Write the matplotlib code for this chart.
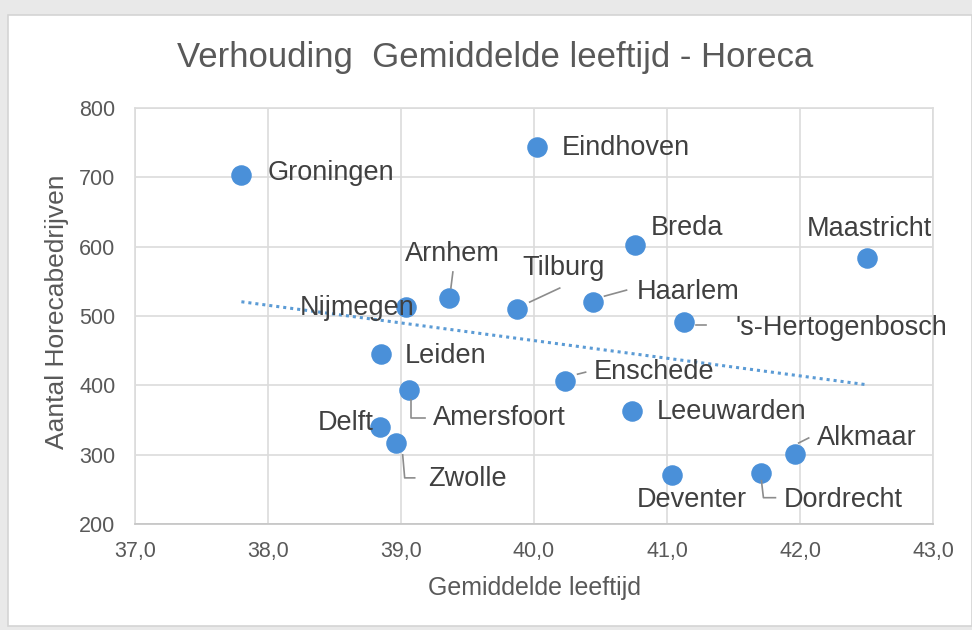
import numpy as np
import matplotlib
matplotlib.use("Agg")
import matplotlib.pyplot as plt
from matplotlib.patches import Rectangle
from matplotlib.lines import Line2D
from matplotlib.transforms import IdentityTransform

plt.rcParams['font.family'] = ['Liberation Sans', 'DejaVu Sans']

# ---- data ----
cities = ["Groningen", "Eindhoven", "Breda", "Maastricht", "Arnhem", "Nijmegen",
          "Tilburg", "Haarlem", "'s-Hertogenbosch", "Leiden", "Enschede", "Amersfoort",
          "Leeuwarden", "Delft", "Zwolle", "Alkmaar", "Deventer", "Dordrecht"]
age = [37.80, 40.02, 40.76, 42.50, 39.36, 39.04,
       39.87, 40.44, 41.13, 38.85, 40.23, 39.06,
       40.74, 38.84, 38.96, 41.96, 41.04, 41.71]
horeca = [703, 744, 602, 584, 526, 513,
          510, 520, 491, 445, 406, 393,
          363, 340, 317, 301, 271, 274]
xticks = [37, 38, 39, 40, 41, 42, 43]
xticklabels = ["37,0", "38,0", "39,0", "40,0", "41,0", "42,0", "43,0"]
yticks = [200, 300, 400, 500, 600, 700, 800]

# ---- label layout (pixel offsets from the marker; image y downwards) ----
label_pos = {
    "Groningen": (26, -2, 'left'),
    "Eindhoven": (25, 1, 'left'),
    "Breda": (16, -17, 'left'),
    "Maastricht": (3, -29, 'center'),
    "Arnhem": (4, -44, 'center'),
    "Nijmegen": (-49, 1, 'center'),
    "Tilburg": (6, -41, 'left'),
    "Haarlem": (44, -10, 'left'),
    "'s-Hertogenbosch": (51, 6, 'left'),
    "Leiden": (24, 2, 'left'),
    "Enschede": (29, -9, 'left'),
    "Amersfoort": (24, 28, 'left'),
    "Leeuwarden": (24, 1, 'left'),
    "Delft": (-34, -4, 'center'),
    "Zwolle": (32, 36, 'left'),
    "Alkmaar": (22, -16, 'left'),
    "Deventer": (19, 25, 'center'),
    "Dordrecht": (22, 27, 'left'),
}
leaders = {
    "Arnhem": [(4, -26), (2, -10)],
    "Tilburg": [(13, -7), (43, -21)],
    "Haarlem": [(12, -6), (34, -12)],
    "'s-Hertogenbosch": [(12, 3), (22, 3)],
    "Enschede": [(13, -7), (21, -9)],
    "Amersfoort": [(2, 10), (2, 28), (16, 28)],
    "Zwolle": [(7, 12), (9, 35), (19, 35)],
    "Alkmaar": [(4, -11), (14, -16)],
    "Dordrecht": [(0, 8), (2, 25), (14, 25)],
}

W, H = 972, 630
fig = plt.figure(figsize=(W / 100, H / 100), dpi=100)
fig.patch.set_facecolor('#e9e9e9')
bg = Rectangle((8 / W, 4 / H), (W - 8) / W, (H - 19) / H,
               transform=fig.transFigure, facecolor='white',
               edgecolor='#d4d4d4', lw=1.2, zorder=-10)
fig.add_artist(bg)

ax = fig.add_axes([135 / W, (H - 524) / H, (933 - 135) / W, (524 - 108) / H])
ax.set_zorder(1)
ax.patch.set_alpha(0)
ax.set_xlim(37, 43)
ax.set_ylim(200, 800)
ax.set_xticks(xticks)
ax.set_xticklabels(xticklabels)
ax.set_yticks(yticks)
ax.grid(True, color='#dcdcdc', lw=1.2)
ax.set_axisbelow(True)
for s in ax.spines.values():
    s.set_color('#dcdcdc')
    s.set_linewidth(1.2)
ax.spines['bottom'].set_color('#c4c4c4')
ax.tick_params(length=0, labelsize=15.5, labelcolor='#595959')
ax.tick_params(axis='y', pad=14)
ax.tick_params(axis='x', pad=12)

ax.scatter(age, horeca, s=190, color='#4A90D9', edgecolors='#4A90D9', zorder=3)

# linear trend line
coef = np.polyfit(age, horeca, 1)
xs = np.array([min(age), max(age)])
ax.plot(xs, np.polyval(coef, xs), linestyle=(0, (1, 1.3)), color='#5B9BD5', lw=2.2, zorder=2)

fig.text(495 / W, 1 - 57 / H, "Verhouding  Gemiddelde leeftijd - Horeca", ha='center',
         va='center', fontsize=25, color='#595959')
fig.text(534 / W, 1 - 588 / H, "Gemiddelde leeftijd", ha='center', va='center',
         fontsize=18, color='#595959')
fig.text(57 / W, 1 - 312 / H, "Aantal Horecabedrijven", ha='center', va='center',
         rotation=90, fontsize=19, color='#595959')

fig.canvas.draw()
for name, x, y in zip(cities, age, horeca):
    dx, dy, ha = label_pos[name]
    ax.annotate(name, (x, y), xytext=(dx, -dy), textcoords='offset pixels',
                ha=ha, va='center', fontsize=19.5, color='#404040', zorder=4)
    if name in leaders:
        px, py = ax.transData.transform((x, y))
        pts = [(px + a, py - b) for a, b in leaders[name]]
        fig.add_artist(Line2D([p[0] for p in pts], [p[1] for p in pts],
                              transform=IdentityTransform(), color='#8c8c8c', lw=1.2))

fig.savefig("out.png", dpi=100, facecolor=fig.get_facecolor())
